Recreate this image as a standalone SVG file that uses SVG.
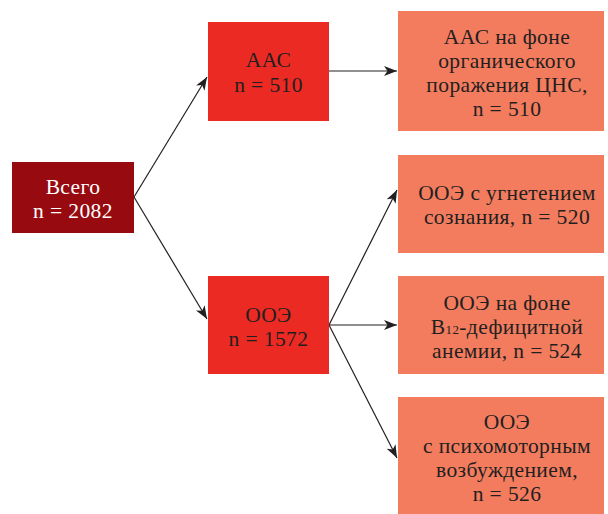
<svg xmlns="http://www.w3.org/2000/svg" width="608" height="514" viewBox="0 0 608 514">
<defs>
<style>
text{font-family:"Liberation Serif","Times New Roman",serif;font-size:21.5px;letter-spacing:0.4px;text-anchor:middle;fill:#231f20}
.w{fill:#ffffff}
.root{fill:#960a10}
.mid{fill:#ec2a24}
.leaf{fill:#f37c5e}
.conn line{stroke:#231f20;stroke-width:1.2;fill:none}
</style>
<marker id="ah" markerUnits="userSpaceOnUse" markerWidth="14" markerHeight="10" refX="13" refY="5" orient="auto">
<path d="M0,0 L13,5 L0,10 L3.5,5 z" fill="#231f20"/>
</marker>
</defs>
<rect width="608" height="514" fill="#ffffff"/>
<g id="connectors" class="conn">
<line x1="134" y1="197" x2="207" y2="77" marker-end="url(#ah)"/>
<line x1="134" y1="197" x2="207" y2="319" marker-end="url(#ah)"/>
<line x1="329" y1="71" x2="397" y2="71" marker-end="url(#ah)"/>
<line x1="329" y1="325" x2="397" y2="190" marker-end="url(#ah)"/>
<line x1="329" y1="325" x2="397" y2="325" marker-end="url(#ah)"/>
<line x1="329" y1="325" x2="397" y2="458" marker-end="url(#ah)"/>
</g>
<g id="total">
<rect class="root" x="12" y="162" width="122" height="71"/>
<text class="w" x="73" y="194">Всего</text>
<text class="w" x="73" y="218">n = 2082</text>
</g>
<g id="aas">
<rect class="mid" x="208" y="22" width="121" height="99"/>
<text x="268.5" y="67">ААС</text>
<text x="268.5" y="92">n = 510</text>
</g>
<g id="ooe">
<rect class="mid" x="208" y="276" width="121" height="98"/>
<text x="268.5" y="322">ООЭ</text>
<text x="268.5" y="346">n = 1572</text>
</g>
<g id="aas-cns">
<rect class="leaf" x="398" y="11" width="206" height="120"/>
<text x="507" y="44">ААС на фоне</text>
<text x="507" y="68">органического</text>
<text x="507" y="92">поражения ЦНС,</text>
<text x="507" y="116">n = 510</text>
</g>
<g id="ooe-consc">
<rect class="leaf" x="398" y="155" width="206" height="98"/>
<text x="507" y="200">ООЭ с угнетением</text>
<text x="507" y="224">сознания, n = 520</text>
</g>
<g id="ooe-b12">
<rect class="leaf" x="398" y="276" width="206" height="98"/>
<text x="507" y="310">ООЭ на фоне</text>
<text x="507" y="334">B<tspan font-size="13">12</tspan>-дефицитной</text>
<text x="507" y="358">анемии, n = 524</text>
</g>
<g id="ooe-psych">
<rect class="leaf" x="398" y="397" width="206" height="117"/>
<text x="507" y="429">ООЭ</text>
<text x="507" y="453">с психомоторным</text>
<text x="507" y="477">возбуждением,</text>
<text x="507" y="501">n = 526</text>
</g>
</svg>
